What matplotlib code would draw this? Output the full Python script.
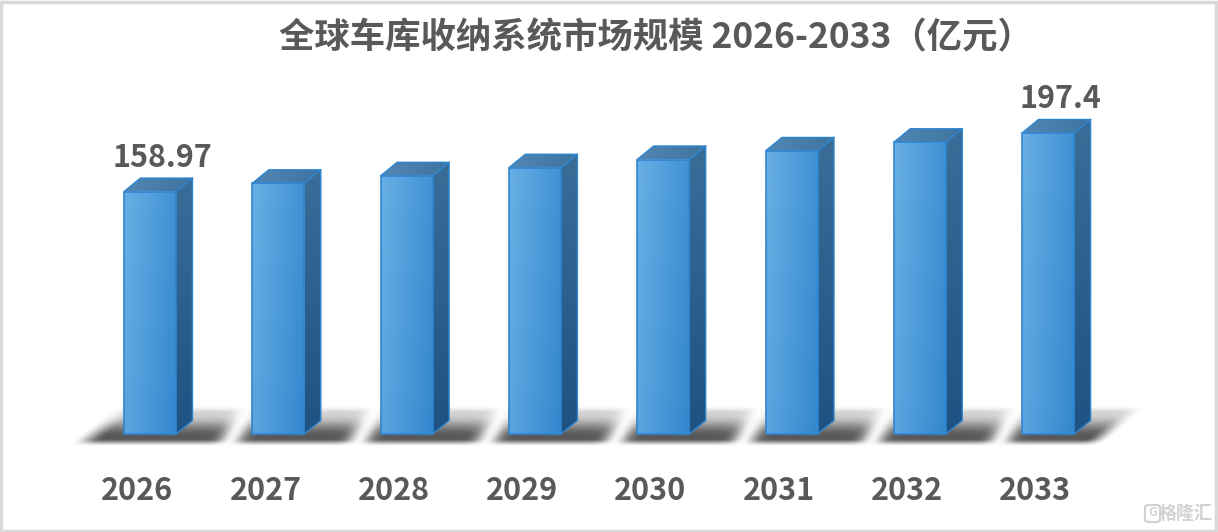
import numpy as np
import matplotlib
matplotlib.use("Agg")
import matplotlib.pyplot as plt
from matplotlib.patches import Polygon, Rectangle, FancyBboxPatch
from matplotlib.colors import to_rgb

plt.rcParams['font.family'] = ['Noto Sans CJK SC', 'DejaVu Sans']

# ---------------- data ----------------
title = "全球车库收纳系统市场规模 2026-2033（亿元）"
years = ["2026", "2027", "2028", "2029", "2030", "2031", "2032", "2033"]
values = [158.97, 164.4, 169.3, 174.6, 180.0, 185.6, 191.3, 197.4]
label_idx = [0, 7]
label_text = ["158.97", "197.4"]

# ---------------- layout ----------------
W, H = 1218, 532
fig = plt.figure(figsize=(W / 100, H / 100), dpi=100)
ax = fig.add_axes([0, 0, 1, 1])
ax.axis('off')

px_x = 128.3      # pixels per category
px_y = 1.525      # pixels per value unit
x0_px = 150       # pixel of first category centre
base_px = 98      # pixel (from bottom) of value 0
xlim = (-x0_px / px_x, (W - x0_px) / px_x)
ylim = (-base_px / px_y, (H - base_px) / px_y)
ax.set_xlim(*xlim)
ax.set_ylim(*ylim)

bar_w = 52 / px_x
dx = 16.5 / px_x
dy = 13.5 / px_y

TXT = '#595959'
EDGE = '#2E86D1'
x = np.arange(len(years))

# ---------------- bars (front faces) ----------------
bars = ax.bar(x, values, width=bar_w, color='#4A9ADA', edgecolor='none', zorder=3)
fig.canvas.draw()
lefts_px = [ax.transData.transform((r.get_x(), 0))[0] for r in bars]
floor = H - ax.transData.transform((0, 0))[1]   # pixel row of the floor (from top)

# ---------------- floor shadow ----------------
yy, xx = np.mgrid[0:H, 0:W].astype(float)
ybot = floor + 9
u = xx - (ybot - yy) * (40 / 33)


def smooth(a, b, t):
    s = np.clip((t - a) / (b - a), 0, 1)
    return s * s * (3 - 2 * s)


alpha = smooth(lefts_px[0] - 56, lefts_px[0] - 26, u) * (1 - smooth(lefts_px[-1] + 58, lefts_px[-1] + 82, u))
for L in lefts_px[1:]:
    c = L - 24 + (ybot - yy) * 0.55
    alpha *= 1 - 0.93 * np.exp(-((xx - c) / 12.0) ** 2)
vert = smooth(floor - 29, floor - 21, yy) * (0.22 + 0.6 * smooth(floor - 21, floor + 2, yy)) \
    * (1 - smooth(floor + 4, floor + 12, yy))
alpha = alpha * vert
shadow = np.zeros((H, W, 4))
shadow[..., :3] = 0.2
shadow[..., 3] = alpha
ax.imshow(shadow, extent=(xlim[0], xlim[1], ylim[0], ylim[1]), origin='upper',
          aspect='auto', zorder=1, interpolation='bilinear')


def grad_img(c1, c2, horizontal=0.7, vertical=0.3, n=64):
    c1, c2 = np.array(to_rgb(c1)), np.array(to_rgb(c2))
    gy, gx = np.mgrid[0:n, 0:n] / (n - 1)
    t = horizontal * gx + vertical * gy
    t = t / max(horizontal + vertical, 1e-9)
    return c1[None, None, :] * (1 - t[..., None]) + c2[None, None, :] * t[..., None]


front_grad = grad_img('#68AFE5', '#3587CE', 0.75, 0.25)
side_grad = grad_img('#3A6D98', '#1D5282', 0.0, 1.0)
top_grad = grad_img('#5287B4', '#3F739F', 1.0, 0.0)

for r in bars:
    bx0 = r.get_x()
    bx1 = bx0 + r.get_width()
    h = r.get_height()
    im = ax.imshow(front_grad, extent=(bx0, bx1, 0, h), origin='upper', aspect='auto',
                   zorder=3.1, interpolation='bilinear')
    im.set_clip_path(r)
    side = Polygon([(bx1, 0), (bx1 + dx, dy), (bx1 + dx, h + dy), (bx1, h)], closed=True,
                   facecolor='none', edgecolor='none', transform=ax.transData)
    ax.add_patch(side)
    ims = ax.imshow(side_grad, extent=(bx1, bx1 + dx, 0, h + dy), origin='upper', aspect='auto',
                    zorder=3.1, interpolation='bilinear')
    ims.set_clip_path(side)
    top = Polygon([(bx0, h), (bx1, h), (bx1 + dx, h + dy), (bx0 + dx, h + dy)], closed=True,
                  facecolor='none', edgecolor='none', transform=ax.transData)
    ax.add_patch(top)
    imt = ax.imshow(top_grad, extent=(bx0, bx1 + dx, h, h + dy), origin='upper', aspect='auto',
                    zorder=3.1, interpolation='bilinear')
    imt.set_clip_path(top)
    ax.add_patch(Rectangle((bx0, 0), bx1 - bx0, h, facecolor='none', edgecolor=EDGE, lw=1.2, zorder=4))
    ax.add_patch(Polygon([(bx1, 0), (bx1 + dx, dy), (bx1 + dx, h + dy), (bx0 + dx, h + dy), (bx0, h)],
                         closed=False, facecolor='none', edgecolor=EDGE, lw=1.0, zorder=4))
    ax.plot([bx1, bx1 + dx], [h, h + dy], color=EDGE, lw=1.0, zorder=4)

# ---------------- text ----------------
for i, yr in enumerate(years):
    ax.text(i - 0.10, -37.4, yr, ha='center', va='center', fontsize=22,
            fontweight='bold', color=TXT, zorder=5)

for i, t in zip(label_idx, label_text):
    ax.text(i + 0.10, values[i] + 22, t, ha='center', va='center', fontsize=22,
            fontweight='bold', color=TXT, zorder=5)

fig.text(656 / W, 1 - 38 / H, title, ha='center', va='center', fontsize=25.5,
         fontweight='bold', color=TXT)

# watermark
fig.text(1186 / W, 1 - 513 / H, "格隆汇", ha='center', va='center', fontsize=13,
         fontweight='bold', color='#D2D2D2')
fig.patches.append(FancyBboxPatch((1145 / W, 1 - 522 / H), 15 / W, 17 / H,
                                  boxstyle='round,pad=0,rounding_size=0.004',
                                  transform=fig.transFigure, facecolor='none',
                                  edgecolor='#D2D2D2', lw=1.6))
fig.text(1152.5 / W, 1 - 513 / H, "G", ha='center', va='center', fontsize=9,
         fontweight='bold', color='#D2D2D2')

# border
fig.patches.append(Rectangle((0.001, 0.002), 0.997, 0.995, transform=fig.transFigure,
                             facecolor='none', edgecolor='#D9D9D9', lw=2.5))

ax.set_xlim(*xlim)
ax.set_ylim(*ylim)
fig.savefig("out.png", dpi=100, facecolor='white')
